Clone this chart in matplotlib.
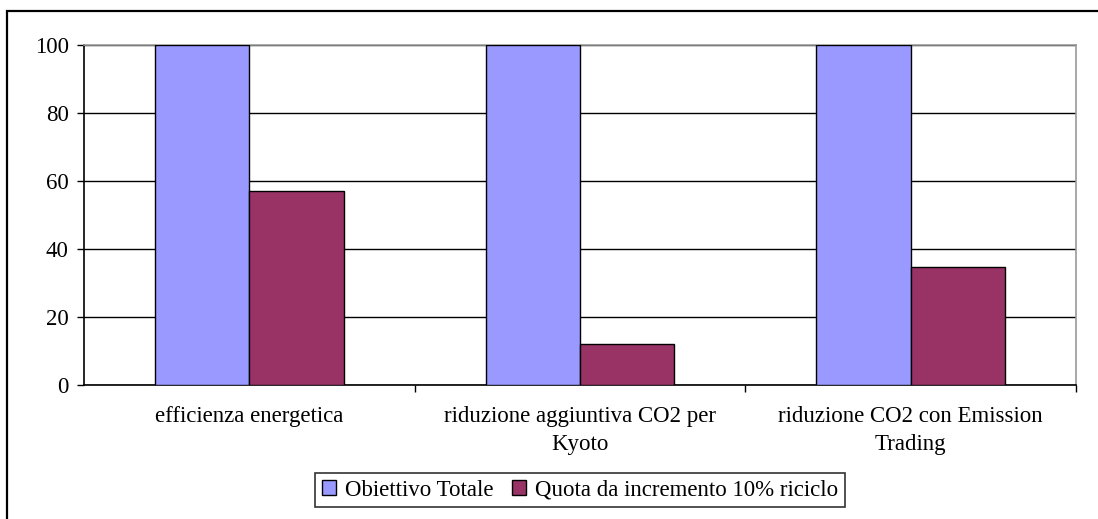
import numpy as np
from matplotlib import pyplot as plt
from matplotlib.patches import Rectangle

categories = ["efficienza energetica",
              "riduzione aggiuntiva CO2 per\nKyoto",
              "riduzione CO2 con Emission\nTrading"]
obiettivo_totale = [100, 100, 100]
quota_riciclo = [57, 12, 34.7]
series_names = ["Obiettivo Totale", "Quota da incremento 10% riciclo"]

plt.rcParams['font.family'] = ['Liberation Serif', 'DejaVu Serif']
fs = 16.5

fig = plt.figure(figsize=[10.98, 5.19], dpi=100)
# outer frame of the chart object
fig.patches.append(Rectangle((7/1098, -0.1), 1.2, 1 - 11/519 + 0.1,
                             transform=fig.transFigure, fill=False,
                             edgecolor='black', linewidth=1.6))

ax = fig.add_axes([84/1098, 1 - 385/519, (1076-84)/1098, (385-45)/519])
x = np.arange(len(categories))
w = 1 / 3.5
ax.bar(x - w/2, obiettivo_totale, w, color='#9999FF', edgecolor='black',
       linewidth=1, label=series_names[0], zorder=3)
ax.bar(x + w/2, quota_riciclo, w, color='#993366', edgecolor='black',
       linewidth=1, label=series_names[1], zorder=3)

ax.set_xlim(-0.5, 2.5)
ax.set_ylim(0, 100)
ax.set_yticks(range(0, 101, 20))
ax.yaxis.grid(True, color='black', linewidth=1, zorder=1)
ax.set_xticks(x)
ax.set_xticklabels(categories, fontsize=fs, linespacing=1.45)
ax.tick_params(axis='x', length=0, pad=15)
ax.set_xticks([0.5, 1.5, 2.5], minor=True)
ax.tick_params(axis='x', which='minor', length=5, width=1, direction='out')
ax.tick_params(axis='y', labelsize=fs, length=5, width=1, direction='out', pad=6)
for s in ['left', 'bottom']:
    ax.spines[s].set_color('black')
    ax.spines[s].set_linewidth(1.2)
for s in ['top', 'right']:
    ax.spines[s].set_color('#999999')
    ax.spines[s].set_linewidth(1.2)

leg = fig.legend(loc='center', bbox_to_anchor=(580/1098, 1 - 490/519), ncol=2,
                 fontsize=fs, frameon=True, fancybox=False, edgecolor='black',
                 handlelength=0.6, handleheight=0.6, handletextpad=0.4,
                 columnspacing=0.8, borderpad=0.3, borderaxespad=0)
leg.get_frame().set_linewidth(1.2)

plt.savefig("out.png")
